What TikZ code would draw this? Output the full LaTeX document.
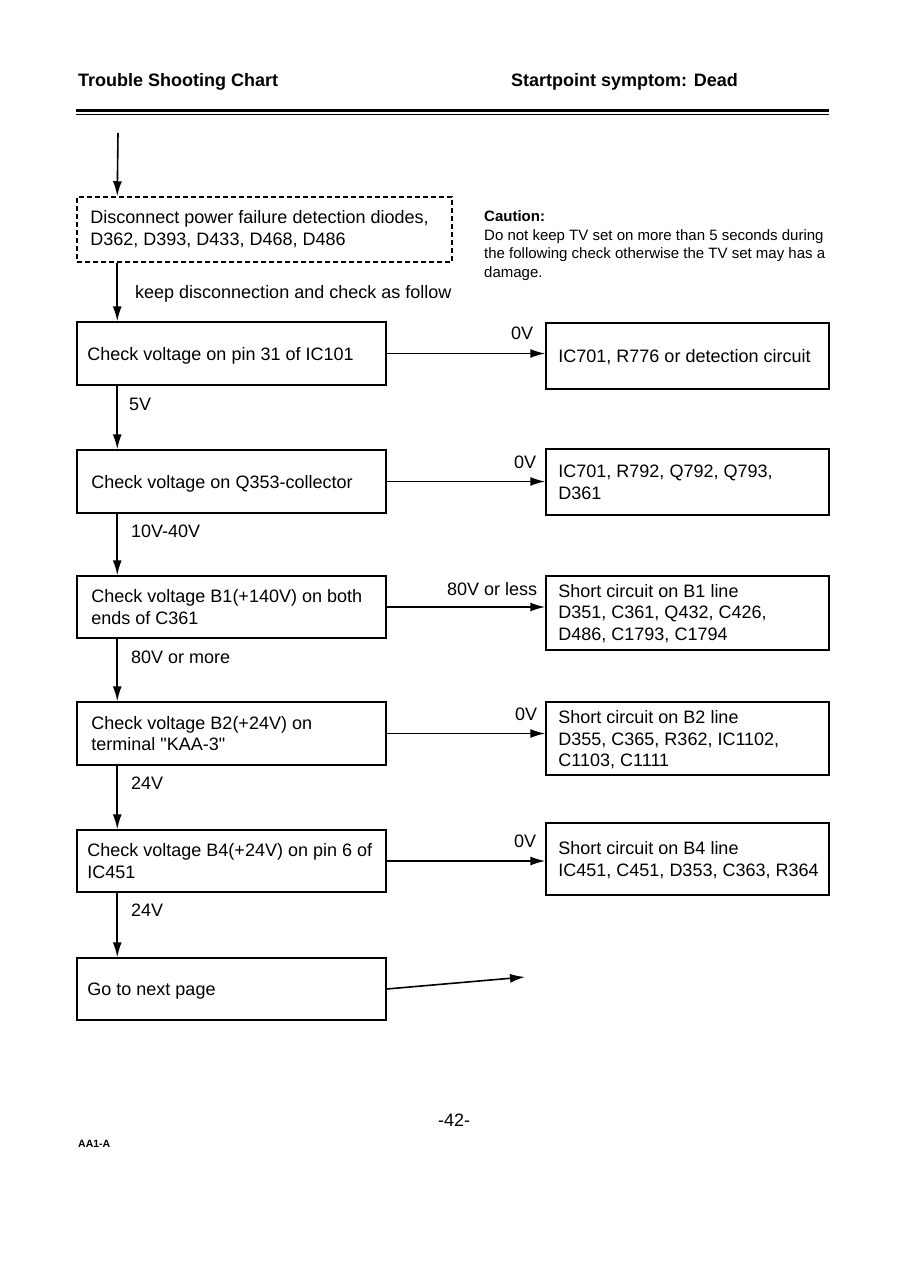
\documentclass[tikz,border=0pt]{standalone}
\usepackage{fontspec}
\setmainfont{Liberation Sans}[Ligatures=TeXOff]
\usetikzlibrary{arrows.meta}
\begin{document}
\begin{tikzpicture}[x=1pt,y=-1pt,
  box/.style={draw,line width=1.5pt,minimum width=309pt,inner sep=0pt},
  rbox/.style={draw,line width=1.5pt,minimum width=283pt,inner sep=0pt},
  dbox/.style={draw,line width=1.5pt,dash pattern=on 5pt off 3pt,minimum width=375pt,minimum height=65pt,inner sep=0pt},
  txt/.style={anchor=west,align=left,font=\fontsize{18}{21.5}\selectfont,inner sep=0pt,text depth=0pt},
  lbl/.style={anchor=base west,font=\fontsize{18}{21.5}\selectfont,inner sep=0pt},
  hdr/.style={anchor=base west,font=\fontsize{18}{21.5}\selectfont\bfseries,inner sep=0pt},
  arr/.style={line width=1.6pt,-{Latex[length=15pt,width=9pt]}},
]
\useasboundingbox (0,0) rectangle (902,1268);
\fill[white] (0,0) rectangle (902,1268);

% header
\node[hdr] (h1) at (78,86.5) {Trouble Shooting Chart};
\node[hdr] (h2) at (511,86.5) {Startpoint symptom: Dead};
\draw[line width=3pt] (76,110.5) -- (829,110.5);
\draw[line width=1.4pt] (76,114.5) -- (829,114.5);

% dashed box
\coordinate (start) at (118,133);
\node[dbox] (d) at (264.5,229.5) {};
\node[txt] (dt) at ([xshift=14pt,yshift=1.5pt]d.west) {Disconnect power failure detection diodes,\\D362, D393, D433, D468, D486};

% caution
\node[anchor=north west,align=left,inner sep=0pt,font=\fontsize{15}{18.6}\selectfont] (caut) at (484,210.5)
  {\textbf{Caution:}\\Do not keep TV set on more than 5 seconds during\\the following check otherwise the TV set may has a\\damage.};

% left boxes
\node[box,minimum height=63pt] (b1) at (231.5,353.5) {};
\node[box,minimum height=63pt] (b2) at (231.5,481.5) {};
\node[box,minimum height=62pt] (b3) at (231.5,607) {};
\node[box,minimum height=63pt] (b4) at (231.5,733.5) {};
\node[box,minimum height=62pt] (b5) at (231.5,861) {};
\node[box,minimum height=62pt] (b6) at (231.5,989) {};

\node[txt] (t1) at ([xshift=11pt]b1.west) {Check voltage on pin 31 of IC101};
\node[txt] (t2) at ([xshift=15pt]b2.west) {Check voltage on Q353-collector};
\node[txt] (t3) at ([xshift=15pt]b3.west) {Check voltage B1(+140V) on both\\ends of C361};
\node[txt] (t4) at ([xshift=15pt]b4.west) {Check voltage B2(+24V) on\\terminal "KAA-3"};
\node[txt] (t5) at ([xshift=11pt]b5.west) {Check voltage B4(+24V) on pin 6 of\\IC451};
\node[txt] (t6) at ([xshift=11pt]b6.west) {Go to next page};

% right boxes
\node[rbox,minimum height=66pt] (r1) at (687.5,356) {};
\node[rbox,minimum height=66pt] (r2) at (687.5,482) {};
\node[rbox,minimum height=74pt] (r3) at (687.5,613) {};
\node[rbox,minimum height=73pt] (r4) at (687.5,738.5) {};
\node[rbox,minimum height=72pt] (r5) at (687.5,859) {};

\node[txt] (rt1) at ([xshift=13pt]r1.west) {IC701, R776 or detection circuit};
\node[txt] (rt2) at ([xshift=13pt]r2.west) {IC701, R792, Q792, Q793,\\D361};
\node[txt] (rt3) at ([xshift=13pt,yshift=1pt]r3.west) {Short circuit on B1 line\\D351, C361, Q432, C426,\\D486, C1793, C1794};
\node[txt] (rt4) at ([xshift=13pt]r4.west) {Short circuit on B2 line\\D355, C365, R362, IC1102,\\C1103, C1111};
\node[txt] (rt5) at ([xshift=13pt]r5.west) {Short circuit on B4 line\\IC451, C451, D353, C363, R364};

% vertical arrows
\draw[arr] (start) -- ([xshift=41pt]d.north west);
\draw[arr] ([xshift=41pt]d.south west) -- ([xshift=41pt]b1.north west);
\draw[arr] ([xshift=41pt]b1.south west) -- ([xshift=41pt]b2.north west);
\draw[arr] ([xshift=41pt]b2.south west) -- ([xshift=41pt]b3.north west);
\draw[arr] ([xshift=41pt]b3.south west) -- ([xshift=41pt]b4.north west);
\draw[arr] ([xshift=41pt]b4.south west) -- ([xshift=41pt]b5.north west);
\draw[arr] ([xshift=41pt]b5.south west) -- ([xshift=41pt]b6.north west);

% horizontal arrows
\draw[arr] (b1.east) -- (b1.east -| r1.west);
\draw[arr] (b2.east) -- (b2.east -| r2.west);
\draw[arr] (b3.east) -- (b3.east -| r3.west);
\draw[arr] (b4.east) -- (b4.east -| r4.west);
\draw[arr] (b5.east) -- (b5.east -| r5.west);
\coordinate (nextpage) at (525,977);
\draw[arr] (b6.east) -- (nextpage);

% labels
\node[lbl] (l0) at (135,298.5) {keep disconnection and check as follow};
\node[lbl] (l1) at (129,410.5) {5V};
\node[lbl] (l2) at (131,537.5) {10V-40V};
\node[lbl] (l3) at (131,663.5) {80V or more};
\node[lbl] (l4) at (131,789.5) {24V};
\node[lbl] (l5) at (131,916.5) {24V};
\node[lbl] (o1) at (511,339.5) {0V};
\node[lbl] (o2) at (514,468.5) {0V};
\node[lbl] (o3) at (447,595.5) {80V or less};
\node[lbl] (o4) at (515,720.5) {0V};
\node[lbl] (o5) at (514,847.5) {0V};

% footer
\node[lbl] (pg) at (438,1126.5) {-42-};
\node[anchor=base west,inner sep=0pt,font=\fontsize{10.5}{12}\selectfont\bfseries] (code) at (78,1147) {AA1-A};
\end{tikzpicture}
\end{document}
